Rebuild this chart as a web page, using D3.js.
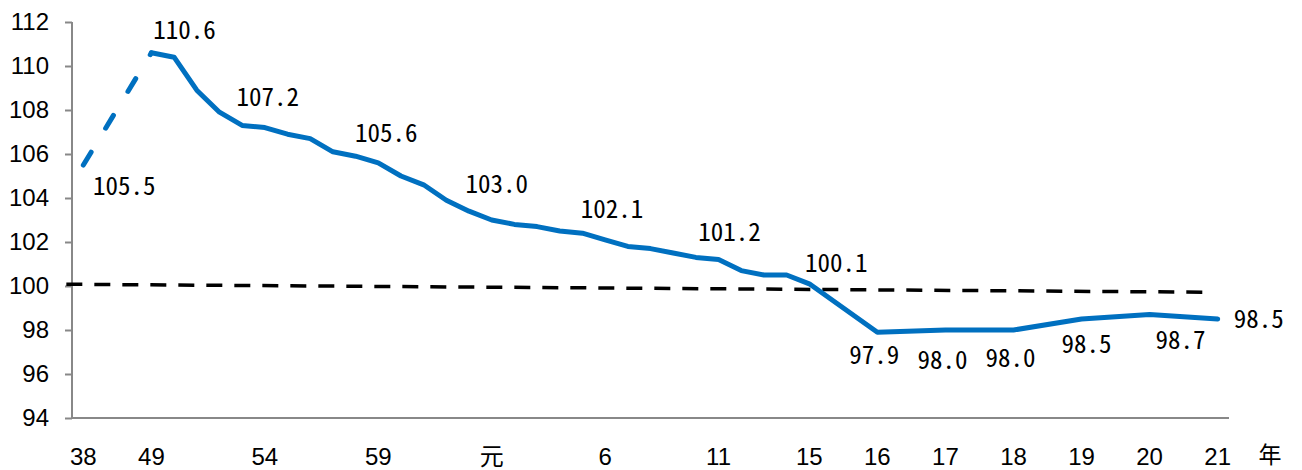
<!DOCTYPE html>
<html>
<head>
<meta charset="utf-8">
<script src="https://cdn.jsdelivr.net/npm/d3@7"></script>
<style>
  body { margin: 0; background: #fff; }
  svg { display: block; }
</style>
</head>
<body>
<svg id="chart" width="1302" height="470"></svg>
<script>
// category slots along the x axis, blanks keep the spacing of the original sheet
const categories = ["38", "", "", "49", "50", "51", "52", "53", "54", "55", "56", "57", "58", "59",
    "60", "61", "62", "63", "元", "2", "3", "4", "5", "6", "7", "8", "9", "10", "11", "12", "13",
    "14", "15", "", "", "16", "", "", "17", "", "", "18", "", "", "19", "", "", "20", "", "", "21"];

const values = [105.5, null, null, 110.6, 110.4, 108.9, 107.9, 107.3, 107.2, 106.9, 106.7, 106.1,
    105.9, 105.6, 105.0, 104.6, 103.9, 103.4, 103.0, 102.8, 102.7, 102.5, 102.4, 102.1, 101.8,
    101.7, 101.5, 101.3, 101.2, 100.7, 100.5, 100.5, 100.1, null, null, 97.9, null, null, 98.0,
    null, null, 98.0, null, null, 98.5, null, null, 98.7, null, null, 98.5];

const tickLabels = ["38", "49", "54", "59", "元", "6", "11", "15", "16", "17", "18", "19", "20", "21"];
const labelled = ["38", "49", "54", "59", "元", "6", "11", "15", "16", "17", "18", "19", "20", "21"];
const yTicks = [94, 96, 98, 100, 102, 104, 106, 108, 110, 112];

// the black dashed guide, given in slot units and values
const guideSlots = [-0.75, 49.35];
const guideValues = [100.08, 99.72];

const unitLabel = "年";

// ---- layout ----
const svg = d3.select("#chart");
const plotLeft = 72, plotRight = 1229, plotTop = 22, plotBottom = 418;

const x = d3.scaleLinear().domain([-0.5, categories.length - 0.5]).range([plotLeft, plotRight]);
const y = d3.scaleLinear().domain([94, 112]).range([plotBottom, plotTop]);

const tickFont = "'Liberation Sans', Arial, sans-serif";
const labelFont = "'Noto Sans Mono CJK JP', 'Liberation Mono', monospace";

// y axis
const yAxis = svg.append("g").attr("transform", `translate(${plotLeft},0)`)
    .call(d3.axisLeft(y).tickValues(yTicks).tickSize(7).tickPadding(16).tickFormat(d3.format("d")));
yAxis.select(".domain").attr("stroke", "#888").attr("stroke-width", 2).attr("d", `M0,${plotBottom}V${plotTop}`);
yAxis.selectAll(".tick line").attr("stroke", "#888").attr("stroke-width", 2);
yAxis.selectAll("text").attr("font-family", tickFont).attr("font-size", 24).attr("fill", "#000");

// x axis line
svg.append("line")
    .attr("x1", plotLeft).attr("x2", plotRight).attr("y1", plotBottom).attr("y2", plotBottom)
    .attr("stroke", "#888").attr("stroke-width", 2);

const slotOf = name => categories.indexOf(name);

svg.append("g").selectAll("text")
    .data(tickLabels)
    .join("text")
    .attr("x", d => x(slotOf(d)))
    .attr("y", 457)
    .attr("dy", "0.35em")
    .attr("text-anchor", "middle")
    .attr("font-family", tickFont + ", 'Noto Sans CJK JP'")
    .attr("font-size", 24)
    .text(d => d);

svg.append("text")
    .attr("x", x(categories.length - 0.5) + 41)
    .attr("y", 455)
    .attr("dy", "0.35em")
    .attr("text-anchor", "middle")
    .attr("font-family", "'Noto Sans CJK JP', sans-serif")
    .attr("font-size", 23)
    .text(unitLabel);

// black dashed guide
const guide = guideSlots.map((s, i) => [s, guideValues[i]]);
svg.append("path")
    .datum(guide)
    .attr("d", d3.line().x(d => x(d[0])).y(d => y(d[1])))
    .attr("fill", "none")
    .attr("stroke", "#000")
    .attr("stroke-width", 3.5)
    .attr("stroke-dasharray", "16,12");

// blue series
const points = values.map((v, i) => ({ i, v, name: categories[i] })).filter(d => d.v !== null);
const line = d3.line().x(d => x(d.i)).y(d => y(d.v));
const blue = "#0070C0";

svg.append("path")
    .datum(points.slice(0, 2))
    .attr("d", line)
    .attr("fill", "none")
    .attr("stroke", blue)
    .attr("stroke-width", 5)
    .attr("stroke-linecap", "round")
    .attr("stroke-dasharray", "15,28");

svg.append("path")
    .datum(points.slice(1))
    .attr("d", line)
    .attr("fill", "none")
    .attr("stroke", blue)
    .attr("stroke-width", 5)
    .attr("stroke-linejoin", "round")
    .attr("stroke-linecap", "round");

// data label placement as in the original sheet
const labelOffset = {
    "38": [41, 21], "49": [33, -23], "54": [3, -30], "59": [8, -30], "元": [5, -36],
    "6": [7, -31], "11": [11, -27], "15": [27, -21], "16": [-3, 23], "17": [-3, 30],
    "18": [-3, 28], "19": [5, 25], "20": [31, 26], "21": [41, 0]
};

svg.append("g").selectAll("text")
    .data(points.filter(d => labelled.includes(d.name)))
    .join("text")
    .attr("x", d => x(d.i) + labelOffset[d.name][0])
    .attr("y", d => y(d.v) + labelOffset[d.name][1])
    .attr("dy", "0.35em")
    .attr("text-anchor", "middle")
    .attr("font-family", labelFont)
    .attr("font-size", 25)
    .text(d => d3.format(".1f")(d.v));
</script>
</body>
</html>
